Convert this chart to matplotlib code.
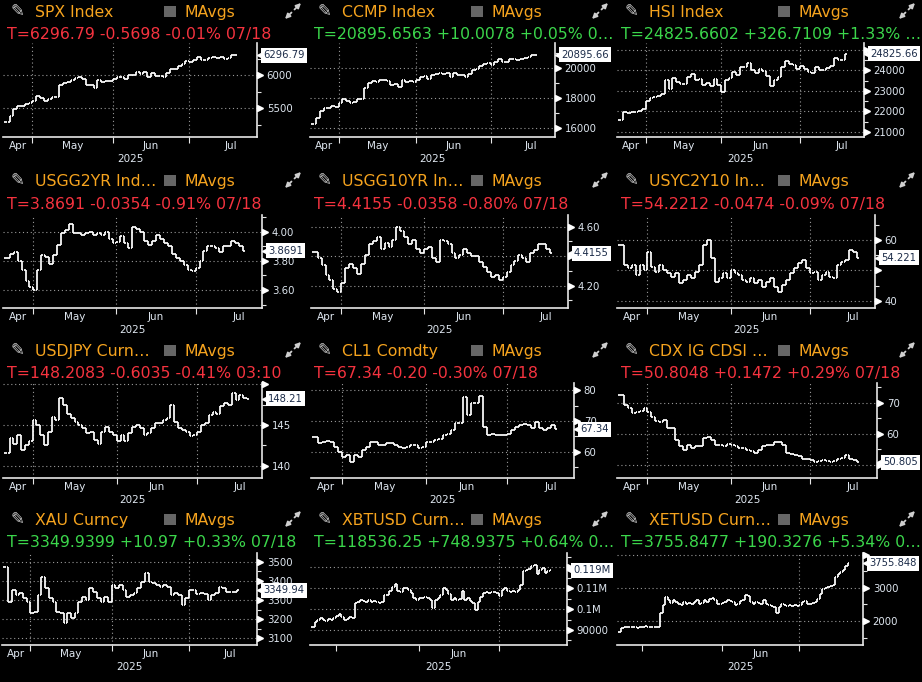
import matplotlib
matplotlib.use('Agg')
import matplotlib.pyplot as plt
import matplotlib.transforms as mtransforms
from matplotlib.collections import LineCollection
from matplotlib.patches import Rectangle, FancyArrowPatch
import numpy as np

W, H = 922, 682

# daily closes, Apr 22 - Jul 18 2025
spx = [5287, 5376, 5485, 5525, 5529, 5561, 5569,
       5604, 5687, 5650, 5607, 5631, 5664, 5660, 5844, 5886, 5892, 5917, 5958, 5964, 5941, 5845, 5842, 5803,
       5922, 5889, 5912, 5912,
       5936, 5970, 5971, 5939, 6000, 6006, 6039, 6022, 6045, 5977, 6033, 5982, 5981, 5967, 6025, 6092, 6092,
       6141, 6173, 6205,
       6198, 6227, 6279, 6230, 6226, 6263, 6280, 6260, 6269, 6244, 6264, 6297, 6297]
ccmp = [16300, 16708, 17166, 17383, 17366, 17461, 17446,
        17710, 17978, 17844, 17690, 17738, 17929, 17929, 18708, 19011, 19146, 19112, 19212, 19215, 19143,
        18873, 18926, 18737, 19199, 19101, 19175, 19114,
        19243, 19399, 19460, 19299, 19530, 19591, 19715, 19615, 19662, 19407, 19701, 19521, 19546, 19447,
        19631, 19913, 19974, 20168, 20273, 20370,
        20202, 20394, 20601, 20412, 20418, 20611, 20631, 20586, 20641, 20678, 20730, 20885, 20896]
hsi = [21562, 21971, 21909, 21980, 21972, 22008, 22119,
       22505, 22663, 22692, 22775, 22868, 23550, 23109, 23641, 23453, 23345, 23333, 23681, 23827, 23544,
       23601, 23282, 23382, 23258, 23574, 23290,
       22935, 23512, 23655, 23907, 23793, 24181, 24163, 24367, 24035, 23892, 24061, 23980, 23711, 23238,
       23530, 23690, 24177, 24474, 24325, 24284, 24072,
       24222, 24070, 23916, 23888, 24148, 24028, 24028, 24140, 24203, 24590, 24518, 24499, 24826]
usgg2yr = [3.82, 3.85, 3.86, 3.80, 3.74, 3.66, 3.62, 3.60, 3.74, 3.84, 3.83, 3.78, 3.84, 3.91, 3.99, 4.01,
           4.05, 3.99, 3.99, 3.98, 3.99, 4.00, 3.98, 3.99, 3.98, 4.00, 3.95, 3.92, 3.93, 3.97, 3.92, 3.89,
           4.03, 4.02, 4.00, 3.94, 3.91, 3.94, 3.98, 3.95, 3.92, 3.90, 3.85, 3.82, 3.80, 3.77, 3.74, 3.73,
           3.75, 3.80, 3.87, 3.90, 3.90, 3.89, 3.86, 3.90, 3.90, 3.94, 3.92, 3.90, 3.87]
usgg10yr = [4.43, 4.39, 4.34, 4.27, 4.24, 4.18, 4.16, 4.22, 4.32, 4.35, 4.32, 4.28, 4.35, 4.41, 4.48, 4.50,
            4.53, 4.45, 4.49, 4.46, 4.51, 4.60, 4.57, 4.53, 4.48, 4.51, 4.45, 4.42, 4.45, 4.46, 4.39, 4.36,
            4.51, 4.50, 4.48, 4.42, 4.39, 4.41, 4.45, 4.42, 4.40, 4.40, 4.36, 4.33, 4.29, 4.26, 4.27, 4.24,
            4.26, 4.29, 4.34, 4.37, 4.41, 4.39, 4.36, 4.42, 4.44, 4.48, 4.48, 4.45, 4.42]
usyc2y10 = [58.4, 51.8, 50.7, 51.8, 48.5, 51.8, 50.2, 56.2, 51.3, 49.6, 51.8, 50.2, 49.1, 48.0, 49.1, 45.8,
            46.9, 48.5, 47.4, 49.6, 51.8, 58.4, 60.0, 54.0, 46.3, 47.4, 49.1, 47.4, 50.2, 49.1, 48.5, 46.9,
            46.3, 47.4, 45.8, 46.9, 44.7, 46.3, 47.4, 44.7, 43.1, 45.2, 46.9, 49.1, 50.7, 52.3, 53.4, 50.7,
            49.1, 49.6, 46.9, 48.5, 49.6, 48.0, 47.4, 51.8, 52.9, 53.4, 56.7, 56.2, 54.2]
usdjpy = [141.5, 143.4, 142.7, 143.8, 141.9, 142.5, 143.0, 145.6, 145.0, 143.8, 142.5, 144.2, 146.0, 145.6,
          148.3, 147.5, 146.4, 145.8, 145.4, 145.0, 144.6, 144.0, 144.2, 143.2, 142.7, 144.2, 144.8, 144.2,
          143.8, 143.0, 143.8, 143.0, 144.0, 144.8, 145.0, 144.6, 143.8, 144.0, 144.6, 145.2, 145.2, 145.6,
          145.8, 147.4, 145.4, 144.6, 144.4, 144.2, 143.6, 143.8, 144.2, 145.0, 145.2, 146.2, 146.6, 146.4,
          147.3, 147.7, 147.5, 148.9, 148.1, 148.7, 148.3, 148.2]
cl1 = [64.9, 62.7, 63.2, 63.5, 63.2, 61.6, 60.0, 58.4, 58.9, 56.8, 58.9, 58.4, 60.5, 61.6, 63.2, 63.2,
       62.2, 62.2, 62.7, 62.7, 62.2, 61.6, 61.1, 61.6, 62.2, 62.2, 61.1, 61.6, 63.2, 63.2, 63.8, 64.3,
       65.4, 65.9, 67.0, 69.2, 69.2, 77.8, 71.9, 75.7, 75.7, 78.0, 68.0, 65.4, 65.9, 65.4, 65.6, 65.4,
       65.9, 67.0, 68.1, 68.6, 68.9, 68.6, 67.6, 69.5, 67.6, 67.0, 67.6, 68.6, 67.3]
cdx_ig = [72.4, 69.3, 68.2, 66.6, 67.1, 67.3, 68.2, 67.1, 65.5, 64.1, 63.7, 64.5, 62.0, 61.8, 58.1, 56.0,
          54.9, 56.5, 55.4, 56.0, 56.0, 58.6, 59.1, 58.1, 56.5, 56.5, 56.0, 56.7, 56.5, 56.0, 55.4, 55.4,
          54.6, 54.4, 53.8, 54.9, 56.0, 56.5, 56.5, 57.3, 57.3, 56.5, 53.8, 53.5, 53.1, 52.8, 52.0, 51.7,
          51.4, 50.9, 51.2, 51.4, 51.2, 51.0, 51.2, 51.7, 52.2, 53.1, 51.7, 51.4, 50.8]
xau = [3470, 3290, 3352, 3326, 3335, 3309, 3291, 3230, 3239, 3326, 3422, 3361, 3309, 3291, 3239, 3230,
       3178, 3230, 3204, 3230, 3291, 3317, 3300, 3361, 3340, 3309, 3291, 3317, 3291, 3378, 3361, 3378,
       3352, 3317, 3326, 3335, 3361, 3396, 3439, 3396, 3387, 3378, 3370, 3378, 3370, 3326, 3335, 3326,
       3274, 3309, 3352, 3352, 3330, 3335, 3330, 3300, 3326, 3335, 3370, 3361, 3343, 3343, 3340, 3350]
# crypto trades every day, Apr 22 - Jul 20
xbtusd = [91600, 94000, 94800, 95600, 94800, 94300, 95300, 94800, 95600,
          96900, 97500, 96400, 94800, 95300, 96400, 95900,
          102800, 103600, 104400, 103900, 103300, 104400, 103600, 103900, 103600, 103100, 103300, 106800,
          106800, 108700, 110800, 111900, 108700, 108400, 110000, 110300, 109200, 107600, 105500, 104400,
          105200,
          105500, 106000, 105200, 104400, 100700, 104400, 105500, 106800, 110000, 109200, 107100, 104400,
          105200, 104400, 104900, 108700, 104400, 105200, 103900, 102800, 99600, 103600, 106000, 107600,
          108100, 107600, 108100, 108100, 107600,
          106500, 109200, 110000, 108700, 108400, 108700, 108400, 109200, 111600, 118000, 118800, 119300,
          120400, 121200, 116700, 118800, 119600, 117200, 118000, 118500]
xetusd = [1680, 1780, 1820, 1810, 1830, 1820, 1815, 1800, 1810, 1830, 1835, 1830, 1825, 1820, 1810, 1805,
          2230, 2480, 2730, 2630, 2560, 2630, 2580, 2530, 2480, 2580, 2530, 2560, 2530, 2580, 2630, 2530,
          2560, 2630, 2580, 2680, 2700, 2630, 2530, 2530, 2560,
          2580, 2630, 2600, 2580, 2480, 2530, 2600, 2630, 2800, 2760, 2580, 2530, 2580, 2560, 2530, 2630,
          2530, 2480, 2460, 2430, 2230, 2430, 2500, 2480, 2460, 2480, 2460, 2480, 2460,
          2480, 2580, 2600, 2530, 2530, 2560, 2580, 2680, 2830, 2980, 3000, 3030, 3060, 3100, 3330, 3430,
          3480, 3530, 3660, 3756]

# index of first bar of May, Jun, Jul in each calendar
us_starts = [7, 28, 48]
hk_starts = [7, 27, 48]
fx_starts = [7, 29, 50]
crypto_starts = [9, 40, 70]

ORANGE = '#f5a31e'
RED = '#f5333f'
GREEN = '#3bd64b'
TICK = '#dfe7f0'
GRID = '#9a9a9a'
AXIS = '#e6e6e6'
ICON = '#cfcfcf'

col_x = [0, 307, 614]
row_top = [43, 215, 383, 553]
row_bot = [137, 308, 478, 645]
title_base = [17, 186, 356, 525]
quote_base = [39, 209, 378, 547]

panels = [
    dict(name='SPX Index', quote='T=6296.79 -0.5698 -0.01% 07/18', qc=RED, data=spx, starts=us_starts,
         row=0, col=0, box=(3, 257), pad=5.7, ylim=(5061, 6485), major=[5500, 6000],
         labels=['5500', '6000'], minor=[5250, 5750, 6250], last='6296.79'),
    dict(name='CCMP Index', quote='T=20895.6563 +10.0078 +0.05% 0…', qc=GREEN, data=ccmp, starts=us_starts,
         row=0, col=1, box=(310, 555), pad=5.4, ylim=(15420, 21687), major=[16000, 18000, 20000],
         labels=['16000', '18000', '20000'], minor=[17000, 19000, 21000], last='20895.66'),
    dict(name='HSI Index', quote='T=24825.6602 +326.7109 +1.33% …', qc=GREEN, data=hsi, starts=hk_starts,
         row=0, col=2, box=(617, 864), pad=5.0, ylim=(20756, 25341),
         major=[21000, 22000, 23000, 24000, 25000], labels=['21000', '22000', '23000', '24000', ''],
         minor=[21500, 22500, 23500, 24500], last='24825.66'),
    dict(name='USGG2YR Ind…', quote='T=3.8691 -0.0354 -0.91% 07/18', qc=RED, data=usgg2yr, starts=us_starts,
         row=1, col=0, box=(3, 262), pad=4.8, ylim=(3.477, 4.115), major=[3.6, 3.8, 4.0],
         labels=['3.60', '3.80', '4.00'], minor=[3.5, 3.7, 3.9, 4.1], last='3.8691'),
    dict(name='USGG10YR In…', quote='T=4.4155 -0.0358 -0.80% 07/18', qc=RED, data=usgg10yr, starts=us_starts,
         row=1, col=1, box=(311, 568), pad=4.6, ylim=(4.049, 4.679), major=[4.2, 4.4, 4.6],
         labels=['4.20', '', '4.60'], minor=[4.1, 4.3, 4.5], last='4.4155'),
    dict(name='USYC2Y10 In…', quote='T=54.2212 -0.0474 -0.09% 07/18', qc=RED, data=usyc2y10, starts=us_starts,
         row=1, col=2, box=(617, 875), pad=4.5, ylim=(37.7, 68.2), major=[40, 50, 60],
         labels=['40', '', '60'], minor=[45, 55, 65], last='54.221'),
    dict(name='USDJPY Curn…', quote='T=148.2083 -0.6035 -0.41% 03:10', qc=RED, data=usdjpy, starts=fx_starts,
         row=2, col=0, box=(3, 262), pad=3.9, ylim=(138.49, 150.16), major=[140, 145, 150],
         labels=['140', '145', ''], minor=[142.5, 147.5], last='148.21'),
    dict(name='CL1 Comdty', quote='T=67.34 -0.20 -0.30% 07/18', qc=RED, data=cl1, starts=us_starts,
         row=2, col=1, box=(311, 574), pad=4.7, ylim=(51.5, 82.3), major=[60, 70, 80],
         labels=['60', '70', '80'], minor=[55, 65, 75], last='67.34'),
    dict(name='CDX IG CDSI …', quote='T=50.8048 +0.1472 +0.29% 07/18', qc=RED, data=cdx_ig, starts=us_starts,
         row=2, col=2, box=(617, 877), pad=5.0, ylim=(45.7, 76.4), major=[50, 60, 70],
         labels=['', '60', '70'], minor=[55, 65, 75], last='50.805'),
    dict(name='XAU Curncy', quote='T=3349.9399 +10.97 +0.33% 07/18', qc=GREEN, data=xau, starts=fx_starts,
         row=3, col=0, box=(2, 257), pad=5.4, ylim=(3065, 3545), major=[3100, 3200, 3300, 3400, 3500],
         labels=['3100', '3200', '3300', '3400', '3500'], minor=[3150, 3250, 3350, 3450], last='3349.94'),
    dict(name='XBTUSD Curn…', quote='T=118536.25 +748.9375 +0.64% 0…', qc=GREEN, data=xbtusd,
         starts=crypto_starts, crypto=True,
         row=3, col=1, box=(310, 567), pad=6.4, ylim=(82820, 126840), major=[90000, 100000, 110000, 120000],
         labels=['90000', '0.1M', '0.11M', ''], minor=[85000, 95000, 105000, 115000, 125000], last='0.119M'),
    dict(name='XETUSD Curn…', quote='T=3755.8477 +190.3276 +5.34% 0…', qc=GREEN, data=xetusd,
         starts=crypto_starts, crypto=True,
         row=3, col=2, box=(617, 863), pad=5.8, ylim=(1273, 4060), major=[2000, 3000, 4000],
         labels=['2000', '3000', ''], minor=[1500, 2500, 3500], last='3755.848'),
]


def fx(x):
    return x / W


def fy(y):
    return 1 - y / H


def draw_bars(ax, closes):
    c = np.asarray(closes, float)
    o = np.r_[c[0], c[:-1]]
    segs = []
    for xi, (oi, ci) in enumerate(zip(o, c)):
        segs.append([(xi, min(oi, ci)), (xi, max(oi, ci))])
        segs.append([(xi - 0.45, oi), (xi, oi)])
        segs.append([(xi, ci), (xi + 0.45, ci)])
    ax.add_collection(LineCollection(segs, colors='white', linewidths=1.25, zorder=3))


def expand_icon(cx, cy):
    # the diagonal double arrow in each panel's top right corner
    for dx in (1, -1):
        a = FancyArrowPatch((fx(cx + dx * 1.5), fy(cy - dx * 1.5)), (fx(cx + dx * 8), fy(cy - dx * 8)),
                            transform=fig.transFigure, arrowstyle='-|>', mutation_scale=7,
                            color=ICON, lw=1.3, shrinkA=0, shrinkB=0)
        fig.add_artist(a)


fig = plt.figure(figsize=(W / 100, H / 100), dpi=100, facecolor='black')

for p in panels:
    x0 = col_x[p['col']]
    r = p['row']
    crypto = p.get('crypto', False)

    # header
    fig.text(fx(x0 + 17), fy(title_base[r] - 6), '✎', color=ICON, fontsize=12, ha='center', va='center')
    fig.text(fx(x0 + 35), fy(title_base[r]), p['name'], color=ORANGE, fontsize=11.3, va='baseline')
    fig.patches.append(Rectangle((fx(x0 + 164), fy(title_base[r])), 12 / W, 11 / H,
                                 transform=fig.transFigure, fc='#666666', ec='none'))
    fig.text(fx(x0 + 184), fy(title_base[r]), 'MAvgs', color=ORANGE, fontsize=11.3, va='baseline')
    expand_icon(x0 + 293, title_base[r] - 6)
    fig.text(fx(x0 + 7), fy(quote_base[r]), p['quote'], color=p['qc'], fontsize=11.3, va='baseline')

    L, R = p['box']
    T, B = row_top[r], row_bot[r]
    ax = fig.add_axes([L / W, 1 - B / H, (R - L) / W, (B - T) / H])
    ax.set_facecolor('black')
    n = len(p['data'])
    ax.set_xlim(-0.7, n - 1 + p['pad'])
    ax.set_ylim(*p['ylim'])
    for s in ['top', 'left']:
        ax.spines[s].set_visible(False)
    for s in ['bottom', 'right']:
        ax.spines[s].set_color(AXIS)
        ax.spines[s].set_linewidth(1.2)

    for y in p['major']:
        ax.axhline(y, color=GRID, lw=0.8, ls=(0, (1, 2.5)), zorder=1)
    vl = p['starts'][2:] if crypto else p['starts']
    for x in vl:
        ax.axvline(x, color=GRID, lw=0.8, ls=(0, (1, 2.5)), zorder=1)

    draw_bars(ax, p['data'])

    ax.yaxis.tick_right()
    ax.set_yticks(p['major'], p['labels'])
    ax.set_yticks(p['minor'], minor=True)
    ax.tick_params(axis='y', which='major', length=0, pad=7, labelsize=7.3, labelcolor=TICK)
    ax.tick_params(axis='y', which='minor', length=3, width=0.8, color=AXIS)
    ax.set_xticks(p['starts'])
    ax.set_xticklabels([])
    ax.tick_params(axis='x', length=4, width=0.8, color=AXIS, direction='out')

    ytr = ax.get_yaxis_transform()
    tri = mtransforms.offset_copy(ytr, fig=fig, x=3, y=0, units='dots')
    ax.plot([1] * len(p['major']), p['major'], ls='', marker='>', ms=5, color='white',
            transform=tri, clip_on=False, zorder=4)

    # last value tag
    ax.plot([1], [p['data'][-1]], ls='', marker='<', ms=4, color='white', transform=tri,
            clip_on=False, zorder=9)
    ax.annotate(p['last'], xy=(1, p['data'][-1]), xycoords=ytr, xytext=(6, 0), textcoords='offset pixels',
                ha='left', va='center', fontsize=7.2, color='#1b2b48', annotation_clip=False, zorder=10,
                bbox=dict(boxstyle='square,pad=0.25', fc='white', ec='none'))

    # month labels
    m0, m1, m2 = p['starts']
    if crypto:
        mlabels, mpos = ['Jun'], [(m1 + m2) / 2]
    else:
        mlabels = ['Apr', 'May', 'Jun', 'Jul']
        mpos = [(-0.7 + m0) / 2, (m0 + m1) / 2, (m1 + m2) / 2, m2 + 11]
    xtr = ax.get_xaxis_transform()
    for lab, xm in zip(mlabels, mpos):
        ax.annotate(lab, xy=(xm, 0), xycoords=xtr, xytext=(0, -4), textcoords='offset pixels',
                    ha='center', va='top', fontsize=7.5, color=TICK, annotation_clip=False)
    ax.annotate('2025', xy=(0.5, 0), xycoords='axes fraction', xytext=(0, -17), textcoords='offset pixels',
                ha='center', va='top', fontsize=7.5, color=TICK, annotation_clip=False)

fig.savefig('out.png', dpi=100, facecolor='black')
